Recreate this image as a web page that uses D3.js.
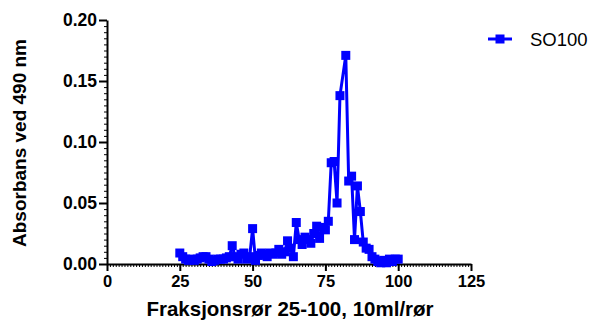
<!DOCTYPE html>
<html>
<head>
<meta charset="utf-8">
<script src="https://cdn.jsdelivr.net/npm/d3@7"></script>
<style>
  body { margin: 0; background: #fff; }
  svg { font-family: "Liberation Sans", Arial, sans-serif; }
</style>
</head>
<body>
<div id="chart"></div>
<script>
// fraction numbers and absorbance readings
const fractions = [25, 26, 27, 28, 29, 30, 31, 32, 33, 34, 35, 36, 37, 38, 39, 40,
    41, 42, 43, 44, 45, 46, 47, 48, 49, 50, 51, 52, 53, 54, 55, 56, 57, 58, 59, 60,
    61, 62, 63, 64, 65, 66, 67, 68, 69, 70, 71, 72, 73, 74, 75, 76, 77, 78, 79, 80,
    82, 83, 84, 85, 86, 87, 88, 89, 90, 91, 92, 93, 94, 95, 96, 97, 98, 99, 100];
const so100 = [0.009, 0.006, 0.004, 0.003, 0.004, 0.003, 0.004, 0.005, 0.006, 0.006, 0.004, 0.002, 0.003, 0.004, 0.004, 0.004,
    0.005, 0.006, 0.015, 0.006, 0.004, 0.008, 0.009, 0.004, 0.006, 0.029, 0.003, 0.007, 0.009, 0.008, 0.006, 0.009, 0.008, 0.009, 0.012, 0.008,
    0.010, 0.019, 0.013, 0.006, 0.034, 0.020, 0.016, 0.022, 0.020, 0.017, 0.025, 0.031, 0.021, 0.030, 0.028, 0.035, 0.083, 0.084, 0.050, 0.138,
    0.171, 0.068, 0.072, 0.020, 0.064, 0.043, 0.018, 0.013, 0.012, 0.006, 0.004, 0.002, 0.001, 0.003, 0.001, 0.004, 0.002, 0.004, 0.004];
const xTicks = [0, 25, 50, 75, 100, 125];
const yTicks = [0, 0.05, 0.10, 0.15, 0.20];
const seriesName = "SO100";

const W = 591, H = 321;
const margin = {top: 20, right: 120, bottom: 57, left: 107};

const svg = d3.select("#chart").append("svg")
    .attr("width", W).attr("height", H);

const x = d3.scaleLinear().domain([0, 125]).range([margin.left, 471]);
const y = d3.scaleLinear().domain([0, 0.20]).range([H - margin.bottom, margin.top]);

// minor ticks
svg.append("g")
    .attr("transform", "translate(0," + y(0) + ")")
    .call(d3.axisBottom(x).tickValues(d3.range(0, 126, 1)).tickSize(3).tickFormat(""))
    .call(g => g.select(".domain").remove())
    .selectAll("line").attr("stroke-width", 1);
svg.append("g")
    .attr("transform", "translate(" + x(0) + ",0)")
    .call(d3.axisLeft(y).tickValues(d3.range(0, 0.2001, 0.005)).tickSize(3).tickFormat(""))
    .call(g => g.select(".domain").remove())
    .selectAll("line").attr("stroke-width", 1);

// X axis
const xAxis = svg.append("g")
    .attr("transform", "translate(0," + y(0) + ")")
    .call(d3.axisBottom(x).tickValues(xTicks).tickSize(7).tickSizeOuter(0).tickPadding(4).tickFormat(d3.format("d")));
xAxis.select(".domain").attr("stroke-width", 2);
xAxis.selectAll(".tick line").attr("stroke-width", 2);
xAxis.selectAll("text").attr("font-size", 16.5).attr("font-weight", "bold").attr("fill", "#000")
    .style("font-family", "Liberation Sans, Arial, sans-serif");

// Y axis
const yAxis = svg.append("g")
    .attr("transform", "translate(" + x(0) + ",0)")
    .call(d3.axisLeft(y).tickValues(yTicks).tickSize(8).tickSizeOuter(0).tickPadding(2).tickFormat(d3.format(".2f")));
yAxis.select(".domain").attr("stroke-width", 2);
yAxis.selectAll(".tick line").attr("stroke-width", 2);
yAxis.selectAll("text").attr("font-size", 17.5).attr("font-weight", "bold").attr("fill", "#000")
    .style("font-family", "Liberation Sans, Arial, sans-serif");

// titles
svg.append("text")
    .attr("x", 290)
    .attr("y", 316)
    .attr("text-anchor", "middle")
    .attr("font-size", 20.5).attr("font-weight", "bold")
    .text("Fraksjonsrør 25-100, 10ml/rør");
svg.append("text")
    .attr("transform", "translate(26,143) rotate(-90)")
    .attr("text-anchor", "middle")
    .attr("font-size", 19).attr("font-weight", "bold")
    .text("Absorbans ved 490 nm");

// data line
const data = fractions.map((f, i) => ({f: f, v: so100[i]}));
svg.append("path")
    .datum(data)
    .attr("fill", "none")
    .attr("stroke", "#0000ff")
    .attr("stroke-width", 3)
    .attr("stroke-linejoin", "round")
    .attr("d", d3.line().x(d => x(d.f)).y(d => y(d.v)));

const ms = 9;
svg.append("g").selectAll("rect")
    .data(data)
    .enter()
    .append("rect")
    .attr("x", d => x(d.f) - ms / 2)
    .attr("y", d => y(d.v) - ms / 2)
    .attr("width", ms).attr("height", ms)
    .attr("fill", "#0000ff");

// legend
const lg = svg.append("g").attr("transform", "translate(488,39)");
lg.append("line").attr("x1", 0).attr("x2", 24).attr("y1", 0).attr("y2", 0)
    .attr("stroke", "#0000ff").attr("stroke-width", 3);
lg.append("rect").attr("x", 7.5).attr("y", -4.5).attr("width", 9).attr("height", 9).attr("fill", "#0000ff");
lg.append("text").attr("x", 42).attr("y", 6.5).attr("font-size", 18.5).attr("fill", "#000").text(seriesName);
</script>
</body>
</html>
